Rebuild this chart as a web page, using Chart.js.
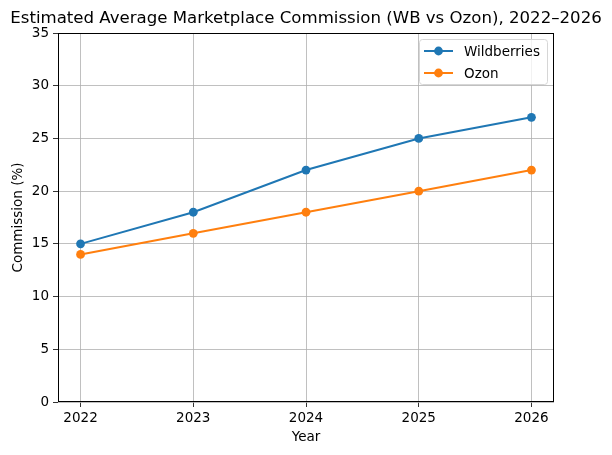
<!DOCTYPE html>
<html lang="en">
<head>
<meta charset="UTF-8">
<title>Marketplace Commission</title>
<style>
  html, body { margin: 0; padding: 0; background: #fff; }
  #wrap { width: 612px; height: 455px; }
</style>
</head>
<body>
<script src="https://cdn.jsdelivr.net/npm/chart.js@4/dist/chart.umd.min.js"></script>
<div id="wrap"><canvas id="chart" width="612" height="455"></canvas></div>
<script>
  const years = [2022, 2023, 2024, 2025, 2026]
  const wildberries = [15, 18, 22, 25, 27]
  const ozon = [14, 16, 18, 20, 22]
  const yTicks = [0, 5, 10, 15, 20, 25, 30, 35]
  const titleText = 'Estimated Average Marketplace Commission (WB vs Ozon), 2022\u20132026'

  const font = 'DejaVu Sans'

  // frame, title and legend drawn like matplotlib
  const mplPlugin = {
    id: 'mpl',
    afterDraw(chart) {
      const { ctx, chartArea: a } = chart
      ctx.save()
      ctx.strokeStyle = '#000'
      ctx.lineWidth = 1
      ctx.strokeRect(a.left + 0.5, a.top + 0.5, a.right - a.left - 1, a.bottom - a.top - 1)

      ctx.fillStyle = '#000'
      ctx.font = '16.6px "' + font + '"'
      ctx.textAlign = 'center'
      ctx.textBaseline = 'alphabetic'
      ctx.fillText(titleText, (a.left + a.right) / 2, a.top - 10)

      // legend box
      const sets = chart.data.datasets
      const bx = 419, by = 39, bw = 128, bh = 45
      ctx.fillStyle = 'rgba(255,255,255,0.8)'
      ctx.strokeStyle = '#d6d6d6'
      ctx.lineWidth = 1
      ctx.beginPath()
      ctx.roundRect(bx + 0.5, by + 0.5, bw, bh, 3)
      ctx.fill()
      ctx.stroke()
      ctx.font = '13.5px "' + font + '"'
      ctx.textAlign = 'left'
      ctx.textBaseline = 'middle'
      sets.forEach((ds, i) => {
        const y = by + 12 + i * 22
        ctx.strokeStyle = ds.borderColor
        ctx.lineWidth = 2
        ctx.beginPath()
        ctx.moveTo(bx + 5, y)
        ctx.lineTo(bx + 34, y)
        ctx.stroke()
        ctx.fillStyle = ds.borderColor
        ctx.beginPath()
        ctx.arc(bx + 19.5, y, 4.4, 0, Math.PI * 2)
        ctx.fill()
        ctx.fillStyle = '#000'
        ctx.fillText(ds.label, bx + 45, y + 1)
      })
      ctx.restore()
    }
  }

  new Chart(document.getElementById('chart'), {
    type: 'line',
    data: {
      datasets: [
        {
          label: 'Wildberries',
          data: years.map((y, i) => ({ x: y, y: wildberries[i] })),
          borderColor: '#1f77b4',
          backgroundColor: '#1f77b4',
          borderWidth: 2,
          pointRadius: 4.4,
          pointBorderWidth: 0,
          pointHoverRadius: 4.4,
          tension: 0
        },
        {
          label: 'Ozon',
          data: years.map((y, i) => ({ x: y, y: ozon[i] })),
          borderColor: '#ff7f0e',
          backgroundColor: '#ff7f0e',
          borderWidth: 2,
          pointRadius: 4.4,
          pointBorderWidth: 0,
          pointHoverRadius: 4.4,
          tension: 0
        }
      ]
    },
    options: {
      responsive: false,
      animation: false,
      devicePixelRatio: 1,
      layout: { padding: { left: 0, right: 58, top: 33, bottom: 0 } },
      plugins: {
        legend: { display: false },
        title: { display: false },
        tooltip: { enabled: false }
      },
      scales: {
        x: {
          type: 'linear',
          min: 2021.8,
          max: 2026.2,
          afterBuildTicks: s => { s.ticks = years.map(v => ({ value: v })) },
          afterFit: s => { s.height = 53 },
          ticks: {
            callback: v => String(v),
            color: '#000',
            font: { family: font, size: 13.5 },
            padding: 3,
            maxRotation: 0,
            autoSkip: false
          },
          grid: { color: '#b0b0b0', lineWidth: 0.8, tickColor: '#000', tickLength: 5 },
          border: { display: false },
          title: {
            display: true,
            text: 'Year',
            color: '#000',
            font: { family: font, size: 13.5 },
            padding: { top: 2, bottom: 9 }
          }
        },
        y: {
          min: 0,
          max: 35,
          afterBuildTicks: s => { s.ticks = yTicks.map(v => ({ value: v })) },
          afterFit: s => { s.width = 58 },
          ticks: {
            color: '#000',
            font: { family: font, size: 13.5 },
            padding: 4
          },
          grid: { color: '#b0b0b0', lineWidth: 0.8, tickColor: '#000', tickLength: 5 },
          border: { display: false },
          title: {
            display: true,
            text: 'Commission (%)',
            color: '#000',
            font: { family: font, size: 13.5 },
            padding: { top: 10, bottom: 0 }
          }
        }
      }
    },
    plugins: [mplPlugin]
  })
</script>
</body>
</html>
